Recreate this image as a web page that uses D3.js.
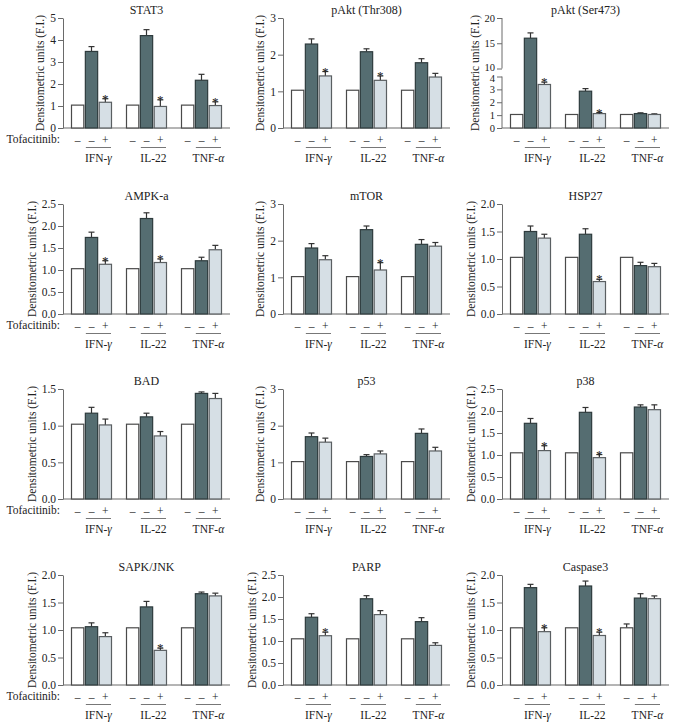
<!DOCTYPE html>
<html><head><meta charset="utf-8">
<script src="https://cdn.jsdelivr.net/npm/d3@7"></script>
<style>
body{margin:0;background:#fff}
svg{display:block}
text{font-family:"Liberation Serif","Times New Roman",serif;fill:#222}
</style>
</head><body><svg id="c" width="673" height="727"></svg>
<script>
const titles = ["STAT3","pAkt (Thr308)","pAkt (Ser473)","AMPK-a","mTOR","HSP27","BAD","p53","p38","SAPK/JNK","PARP","Caspase3"];
const groups = ["IFN-γ","IL-22","TNF-α"];
const groupPrefix = ["IFN-","IL-22","TNF-"];
const groupGreek = ["γ","","α"];
const treatments = ["control","cytokine","tofacitinib"];
const treatmentSigns = ["–","–","+"];
const yMax = [5,3,20,2.5,3,2,1.5,3,2.5,2,2.5,2];
const yTickValues = [
  [0,1,2,3,4,5],[0,1,2,3],[0,1,2,3,4,10,15,20],
  [0,0.5,1,1.5,2,2.5],[0,1,2,3],[0,0.5,1,1.5,2],
  [0,0.5,1,1.5],[0,1,2,3],[0,0.5,1,1.5,2,2.5],
  [0,0.5,1,1.5,2],[0,0.5,1,1.5,2,2.5],[0,0.5,1,1.5,2]
];
const tickFormats = ["d","d","d",".1f","d",".1f",".1f","d",".1f",".1f",".1f",".1f"];
// values per panel: [IFN-γ, IL-22, TNF-α]
const controlValues = [
  [1.04,1.04,1.04],[1.03,1.03,1.03],[1.05,1.05,1.05],
  [1.03,1.03,1.03],[1.02,1.02,1.02],[1.03,1.03,1.03],
  [1.02,1.02,1.02],[1.02,1.02,1.02],[1.05,1.05,1.05],
  [1.04,1.04,1.04],[1.05,1.05,1.05],[1.04,1.04,1.04]
];
const controlErrors = [
  [0,0,0],[0,0,0],[0,0,0],[0,0,0],[0,0,0],[0,0,0],
  [0,0,0],[0,0,0],[0,0,0],[0,0,0],[0,0,0],[0,0,0.07]
];
const cytokineValues = [
  [3.48,4.2,2.17],[2.29,2.08,1.78],[16.0,2.86,1.12],
  [1.74,2.17,1.21],[1.8,2.3,1.9],[1.5,1.45,0.88],
  [1.17,1.12,1.44],[1.7,1.16,1.79],[1.72,1.97,2.09],
  [1.06,1.42,1.66],[1.54,1.96,1.44],[1.77,1.8,1.58]
];
const cytokineErrors = [
  [0.22,0.27,0.27],[0.14,0.08,0.11],[1.05,0.2,0.06],
  [0.12,0.13,0.08],[0.12,0.1,0.13],[0.1,0.1,0.06],
  [0.08,0.05,0.02],[0.1,0.05,0.12],[0.11,0.11,0.05],
  [0.07,0.1,0.03],[0.08,0.07,0.09],[0.06,0.09,0.08]
];
const tofaValues = [
  [1.17,0.98,1.02],[1.42,1.3,1.39],[3.38,1.12,1.05],
  [1.13,1.17,1.46],[1.48,1.2,1.85],[1.38,0.59,0.86],
  [1.01,0.86,1.37],[1.55,1.23,1.31],[1.1,0.94,2.03],
  [0.88,0.63,1.62],[1.12,1.6,0.9],[0.97,0.9,1.57]
];
const tofaErrors = [
  [0.16,0.3,0.17],[0.12,0.12,0.1],[0.18,0.08,0.05],
  [0.08,0.08,0.1],[0.11,0.2,0.1],[0.07,0.04,0.06],
  [0.08,0.06,0.07],[0.11,0.08,0.1],[0.11,0.07,0.11],
  [0.07,0.04,0.05],[0.08,0.09,0.06],[0.07,0.06,0.05]
];
const tofaSignificant = [
  [1,1,1],[1,1,0],[1,1,0],[1,1,0],[0,1,0],[0,1,0],
  [0,0,0],[0,0,0],[1,1,0],[0,1,0],[1,0,0],[1,1,0]
];

const colX = [63, 283, 502];
const rowZero = [128, 314, 499, 685];
const plotW = 167, plotH = 110;
const fills = ["#ffffff","#556d71","#d6dfe5"];
const strokes = ["#4a4a4a","#2e3b3d","#5a5f62"];
const axisColor = "#6a6a6a";
const textColor = "#222";

const svg = d3.select("#c");

titles.forEach((title, i) => {
  const col = i % 3, row = Math.floor(i / 3);
  const x0 = colX[col], z = rowZero[row];
  const g = svg.append("g").attr("transform", `translate(${x0},0)`);

  let y;
  if (i === 2) {
    y = d3.scaleLinear().domain([0,4,10,20]).range([z, z-51.5, z-59.5, z-plotH]);
  } else {
    y = d3.scaleLinear().domain([0, yMax[i]]).range([z, z-plotH]);
  }
  const xg = d3.scaleBand().domain(groups).range([0, plotW]).paddingInner(14/55).paddingOuter(8/55);
  const xb = d3.scaleBand().domain(treatments).range([0, xg.bandwidth()]).paddingInner(0.04);

  // y axis
  const yAxis = d3.axisLeft(y).tickValues(yTickValues[i]).tickFormat(d3.format(tickFormats[i])).tickSize(5).tickSizeOuter(0);
  const ya = g.append("g").call(yAxis);
  ya.select(".domain").attr("stroke", axisColor);
  ya.selectAll(".tick line").attr("stroke", axisColor);
  ya.selectAll(".tick text").attr("font-size", i === 2 ? 10.5 : 11.5).attr("font-family", '"Liberation Serif",serif').attr("fill",textColor).attr("x",-7);
  if (i === 2) {
    ya.select(".domain").remove();
    ya.append("line").attr("x1",0).attr("x2",0).attr("y1",y(20)).attr("y2",y(10)).attr("stroke",axisColor);
    ya.append("line").attr("x1",0).attr("x2",0).attr("y1",y(4)).attr("y2",y(0)).attr("stroke",axisColor);
    ya.selectAll(".tick text").filter(d => d === 10).attr("dy","0.2em");
    ya.selectAll(".tick text").filter(d => d === 4).attr("dy","0.5em");
  }
  let maxW = 0;
  ya.selectAll(".tick text").each(function(){ maxW = Math.max(maxW, this.getComputedTextLength()); });

  // y label
  g.append("text").attr("transform", `translate(${-maxW-13},${z-plotH/2}) rotate(-90)`)
    .attr("text-anchor","middle").attr("font-size",11.5).attr("fill",textColor).text("Densitometric units (F.I.)");

  // x axis line
  g.append("line").attr("x1",0).attr("x2",plotW).attr("y1",z).attr("y2",z).attr("stroke",axisColor);

  // title
  g.append("text").attr("x", plotW/2).attr("y", z-plotH-4).attr("text-anchor","middle").attr("font-size",12).attr("fill",textColor).text(title);

  const series = [controlValues[i], cytokineValues[i], tofaValues[i]];
  const errs = [controlErrors[i], cytokineErrors[i], tofaErrors[i]];

  groups.forEach((grp, gi) => {
    const gx = xg(grp);
    treatments.forEach((t, ti) => {
      const v = series[ti][gi], e = errs[ti][gi];
      const bx = gx + xb(t), bw = xb.bandwidth();
      const cx = bx + bw/2;
      if (e > 0) {
        g.append("line").attr("x1",cx).attr("x2",cx).attr("y1",y(v)).attr("y2",y(v+e)).attr("stroke","#333").attr("stroke-width",1.2);
        g.append("line").attr("x1",cx-3).attr("x2",cx+3).attr("y1",y(v+e)).attr("y2",y(v+e)).attr("stroke","#333").attr("stroke-width",1.2);
      }
      g.append("rect").attr("x",bx+0.5).attr("y",y(v)).attr("width",bw-1).attr("height",z-y(v))
        .attr("fill",fills[ti]).attr("stroke",strokes[ti]).attr("stroke-width",1.2);
      if (ti === 2 && tofaSignificant[i][gi]) {
        g.append("text").attr("x",cx).attr("y",y(v+e)+4).attr("text-anchor","middle").attr("font-size",13).attr("fill",textColor).text("*");
      }
      // sign
      g.append("text").attr("x",cx).attr("y",z+16).attr("text-anchor","middle").attr("font-size",11.5).attr("fill",textColor).text(treatmentSigns[ti]);
    });
    // underline below cytokine + tofacitinib
    const ux1 = gx + xb("cytokine") + 1, ux2 = gx + xb("tofacitinib") + xb.bandwidth() - 1;
    g.append("line").attr("x1",ux1).attr("x2",ux2).attr("y1",z+19.5).attr("y2",z+19.5).attr("stroke","#777").attr("stroke-width",1);
    const lbl = g.append("text").attr("x",(ux1+ux2)/2).attr("y",z+34).attr("text-anchor","middle").attr("font-size",11.5).attr("fill",textColor);
    lbl.append("tspan").text(groupPrefix[gi]);
    if (groupGreek[gi]) lbl.append("tspan").attr("font-style","italic").text(groupGreek[gi]);
  });

  if (col === 0) {
    g.append("text").attr("x",-3).attr("y",z+15).attr("text-anchor","end").attr("font-size",11.5).attr("fill",textColor).text("Tofacitinib:");
  }
});
</script>
</body></html>
